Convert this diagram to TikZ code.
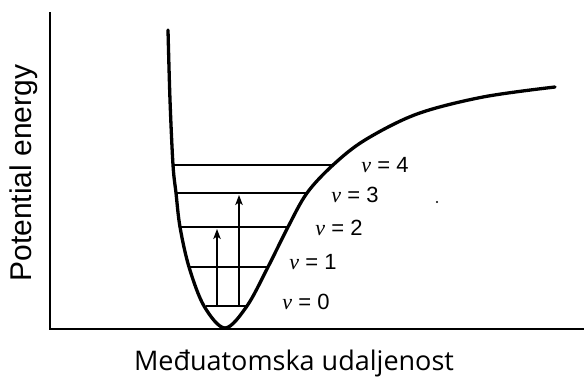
\documentclass[tikz,border=0pt]{standalone}
\usepackage{fontspec}
\setmainfont{Liberation Sans}
\newfontfamily\axisfont{Open Sans}
\newfontfamily\vfont{Liberation Serif}
\usetikzlibrary{arrows.meta}

\begin{document}
\begin{tikzpicture}[
	x=1pt, y=-1pt,
	every node/.style={font=\fontsize{22}{26}\selectfont, inner sep=0pt},
	axis/.style={line width=2.5pt},
	well/.style={line width=3.3pt, line join=round, line cap=round},
	level/.style={line width=2.3pt},
	jump/.style={line width=1.2pt, -{Stealth[length=10pt, width=7.5pt, inset=2.5pt]}}
]
\useasboundingbox (0,0) rectangle (584,380);
\draw[axis] (50,12) -- (50,329) -- (584,329);
\draw[well] plot[smooth, tension=0.55] coordinates {
	(168,30) (170,100) (173,165) (176,193) (180,227) (189,267)
	(204,306) (225,328) (247,306) (268,267) (288,227) (307,193)
	(333,165) (365,140) (417,114) (483,97) (555,87)};
\coordinate (l0) at (206,306);
\coordinate (r0) at (247,306);
\coordinate (l1) at (190,267);
\coordinate (r1) at (268,267);
\coordinate (l2) at (180,227);
\coordinate (r2) at (288,227);
\coordinate (l3) at (176,193);
\coordinate (r3) at (307,193);
\coordinate (l4) at (173,165);
\coordinate (r4) at (333,165);
\foreach \i in {0,...,4}
	\draw[level] (l\i) -- (r\i);
\coordinate (a0) at (217,306);
\coordinate (a2) at (217,229);
\coordinate (b0) at (239,306);
\coordinate (b3) at (239,195);
\draw[jump] (a0) -- (a2);
\draw[jump] (b0) -- (b3);
\node (v0) at (306,302) {{\vfont\itshape v} = 0};
\node (v1) at (313,262) {{\vfont\itshape v} = 1};
\node (v2) at (339,228) {{\vfont\itshape v} = 2};
\node (v3) at (355,195) {{\vfont\itshape v} = 3};
\node (v4) at (385,165) {{\vfont\itshape v} = 4};
\fill (437,202) circle (1.1pt);
\node[rotate=90, font=\fontsize{30}{34}\selectfont] (ylab) at (24,173) {Potential energy};
\node[anchor=base, font=\axisfont\fontsize{27}{32}\selectfont] (xlab) at (294,370) {Međuatomska udaljenost};
\end{tikzpicture}
\end{document}
